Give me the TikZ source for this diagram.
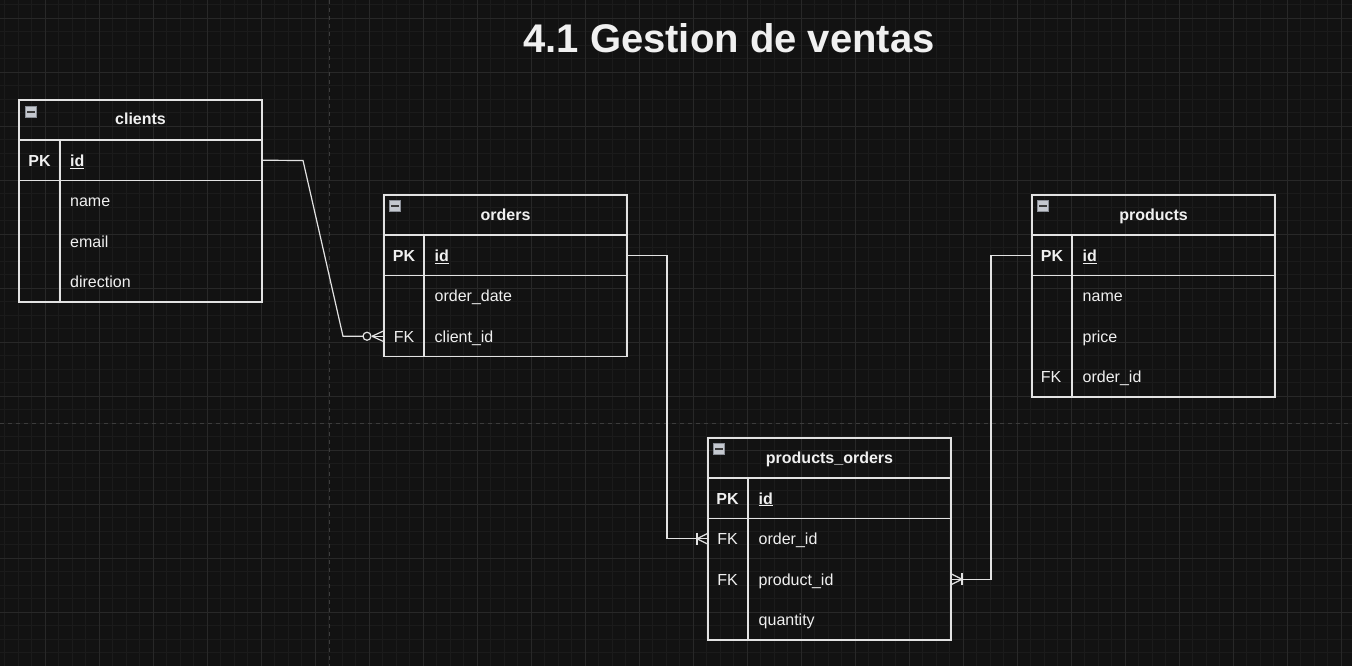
\documentclass[tikz,border=0pt]{standalone}
\usepackage{fontspec}
\setmainfont{Liberation Sans}
\usetikzlibrary{calc}
\definecolor{bg}{HTML}{121212}
\definecolor{gminor}{HTML}{1B1B1B}
\definecolor{gmajor}{HTML}{282828}
\definecolor{pgbrk}{HTML}{3C3C3C}
\definecolor{ln}{HTML}{E2E2E2}
\definecolor{tx}{HTML}{F0F0F0}
\definecolor{iconfill}{HTML}{C4C8CF}
\definecolor{iconedge}{HTML}{8A8E96}
\definecolor{icondark}{HTML}{3A3A3A}
\tikzset{
  frame/.style={draw=ln, line width=1.2pt, anchor=north west, minimum width=243pt, inner sep=0pt, outer sep=0pt},
  rowbox/.style={anchor=north west, minimum width=243pt, minimum height=40.5pt, inner sep=0pt, outer sep=0pt},
  hdrbox/.style={anchor=north west, minimum width=243pt, minimum height=40pt, inner sep=0pt, outer sep=0pt},
  tline/.style={draw=ln, line width=1.2pt},
  basetext/.style={text=tx, inner sep=0pt, text height=12pt, text depth=0pt},
  hdrtext/.style={basetext, font=\fontsize{16}{19}\selectfont\bfseries},
  keytext/.style={basetext, font=\fontsize{16}{19}\selectfont},
  pktext/.style={basetext, font=\fontsize{16}{19}\selectfont\bfseries},
  fldtext/.style={basetext, font=\fontsize{16}{19}\selectfont, anchor=west},
  idtext/.style={basetext, font=\fontsize{16}{19}\selectfont\bfseries, anchor=west},
  icon/.style={draw=iconedge, fill=iconfill, line width=0.6pt, minimum size=11pt, inner sep=0pt},
  conn/.style={draw=ln, line width=1.2pt},
  titletext/.style={text=tx, font=\fontsize{40}{48}\selectfont\bfseries, inner sep=0pt, anchor=base},
}
\newcommand{\iconminus}[1]{\draw[icondark, line width=1.6pt] ([xshift=2pt]#1.west) -- ([xshift=-2pt]#1.east);}
\begin{document}
\begin{tikzpicture}[x=1pt,y=-1pt]
\fill[bg] (0,0) rectangle (1352,666);
\useasboundingbox (0,0) rectangle (1352,666);
% grid
\foreach \i in {0,...,99} {\draw[gminor, line width=0.8pt] ({4.5+13.5*\i},0) -- ({4.5+13.5*\i},666);}
\foreach \j in {0,...,49} {\draw[gminor, line width=0.8pt] (0,{4.5+13.5*\j}) -- (1352,{4.5+13.5*\j});}
\foreach \i in {0,...,24} {\draw[gmajor, line width=0.9pt] ({45+54*\i},0) -- ({45+54*\i},666);}
\foreach \j in {0,...,12} {\draw[gmajor, line width=0.9pt] (0,{18+54*\j}) -- (1352,{18+54*\j});}
\draw[pgbrk, line width=1pt, dash pattern=on 4pt off 4pt] (329.5,0) -- (329.5,666);
\draw[pgbrk, line width=1pt, dash pattern=on 4pt off 4pt] (0,423) -- (1352,423);

% title
\node[titletext] (title) at (729,53) {4.1 Gestion de ventas};

% ---------- clients ----------
\node[frame, minimum height=202pt] (clients) at (19,100) {};
\node[hdrbox] (c-h) at (19,100) {};
\node[hdrtext] at ([yshift=1pt]c-h.center) {clients};
\node[icon] (c-icon) at (31,112) {};
\iconminus{c-icon}
\node[rowbox] (c-id) at (19,140) {};
\node[rowbox] (c-name) at (19,180.5) {};
\node[rowbox] (c-email) at (19,221) {};
\node[rowbox] (c-dir) at (19,261.5) {};
\draw[tline] (c-id.north west) -- (c-id.north east);
\draw[tline] (c-id.south west) -- (c-id.south east);
\draw[tline] (60,140) -- (60,302);
\node[pktext] at (39.5,160.5) {PK};
\node[idtext] at (70,160.5) {\underline{id}};
\node[fldtext] at (70,200.5) {name};
\node[fldtext] at (70,241) {email};
\node[fldtext] at (70,281.5) {direction};

% ---------- orders ----------
\node[frame, minimum height=161.5pt] (orders) at (384,195) {};
\node[hdrbox] (o-h) at (384,195) {};
\node[hdrtext] at ([yshift=1pt]o-h.center) {orders};
\node[icon] (o-icon) at (395,206) {};
\iconminus{o-icon}
\node[rowbox] (o-id) at (384,235) {};
\node[rowbox] (o-date) at (384,275.5) {};
\node[rowbox] (o-cid) at (384,316) {};
\draw[tline] (o-id.north west) -- (o-id.north east);
\draw[tline] (o-id.south west) -- (o-id.south east);
\draw[tline] (424,235) -- (424,356.5);
\node[pktext] at (404,255.5) {PK};
\node[idtext] at (434.5,255.5) {\underline{id}};
\node[fldtext] at (434.5,295.5) {order\_date};
\node[keytext] at (404,336) {FK};
\node[fldtext] at (434.5,336) {client\_id};

% ---------- products ----------
\node[frame, minimum height=202pt] (products) at (1032,195) {};
\node[hdrbox] (p-h) at (1032,195) {};
\node[hdrtext] at ([yshift=1pt]p-h.center) {products};
\node[icon] (p-icon) at (1043,206) {};
\iconminus{p-icon}
\node[rowbox] (p-id) at (1032,235) {};
\node[rowbox] (p-name) at (1032,275.5) {};
\node[rowbox] (p-price) at (1032,316) {};
\node[rowbox] (p-oid) at (1032,356.5) {};
\draw[tline] (p-id.north west) -- (p-id.north east);
\draw[tline] (p-id.south west) -- (p-id.south east);
\draw[tline] (1072,235) -- (1072,397);
\node[pktext] at (1052,255.5) {PK};
\node[idtext] at (1082.5,255.5) {\underline{id}};
\node[fldtext] at (1082.5,295.5) {name};
\node[fldtext] at (1082.5,336) {price};
\node[keytext] at (1051,376.5) {FK};
\node[fldtext] at (1082.5,376.5) {order\_id};

% ---------- products_orders ----------
\node[frame, minimum height=202pt] (po) at (708,438) {};
\node[hdrbox] (po-h) at (708,438) {};
\node[hdrtext] at ([yshift=1pt]po-h.center) {products\_orders};
\node[icon] (po-icon) at (719,449) {};
\iconminus{po-icon}
\node[rowbox] (po-id) at (708,478) {};
\node[rowbox] (po-oid) at (708,518.5) {};
\node[rowbox] (po-pid) at (708,559) {};
\node[rowbox] (po-qty) at (708,599.5) {};
\draw[tline] (po-id.north west) -- (po-id.north east);
\draw[tline] (po-id.south west) -- (po-id.south east);
\draw[tline] (748,478) -- (748,640);
\node[pktext] at (727.5,498) {PK};
\node[idtext] at (758.5,498) {\underline{id}};
\node[keytext] at (727.5,538.5) {FK};
\node[fldtext] at (758.5,538.5) {order\_id};
\node[keytext] at (727.5,579) {FK};
\node[fldtext] at (758.5,579) {product\_id};
\node[fldtext] at (758.5,619.5) {quantity};

% ---------- connectors ----------
% clients.id -> orders.client_id (zero or many)
\draw[conn] (c-id.east) -- (303,160.5) -- (343,336.25) -- ([xshift=-21pt]o-cid.west);
\draw[conn] ([xshift=-12pt]o-cid.west) -- (o-cid.west);
\draw[conn] ([xshift=-12pt]o-cid.west) -- ([yshift=5.5pt]o-cid.west);
\draw[conn] ([xshift=-12pt]o-cid.west) -- ([yshift=-5.5pt]o-cid.west);
\draw[conn] ([xshift=-17pt]o-cid.west) circle (4pt);

% orders.id -> products_orders.order_id (one or many)
\draw[conn] (o-id.east) -- (667,255.25) -- (667,538.75) -- (po-oid.west);
\draw[conn] ([xshift=-11pt]po-oid.west) -- ([yshift=5.5pt]po-oid.west);
\draw[conn] ([xshift=-11pt]po-oid.west) -- ([yshift=-5.5pt]po-oid.west);
\draw[conn] ([xshift=-11pt,yshift=6pt]po-oid.west) -- ([xshift=-11pt,yshift=-6pt]po-oid.west);

% products.id -> products_orders.product_id (one or many)
\draw[conn] (p-id.west) -- (991,255.25) -- (991,579.25) -- (po-pid.east);
\draw[conn] ([xshift=11pt]po-pid.east) -- ([yshift=5.5pt]po-pid.east);
\draw[conn] ([xshift=11pt]po-pid.east) -- ([yshift=-5.5pt]po-pid.east);
\draw[conn] ([xshift=11pt,yshift=6pt]po-pid.east) -- ([xshift=11pt,yshift=-6pt]po-pid.east);
\end{tikzpicture}
\end{document}
